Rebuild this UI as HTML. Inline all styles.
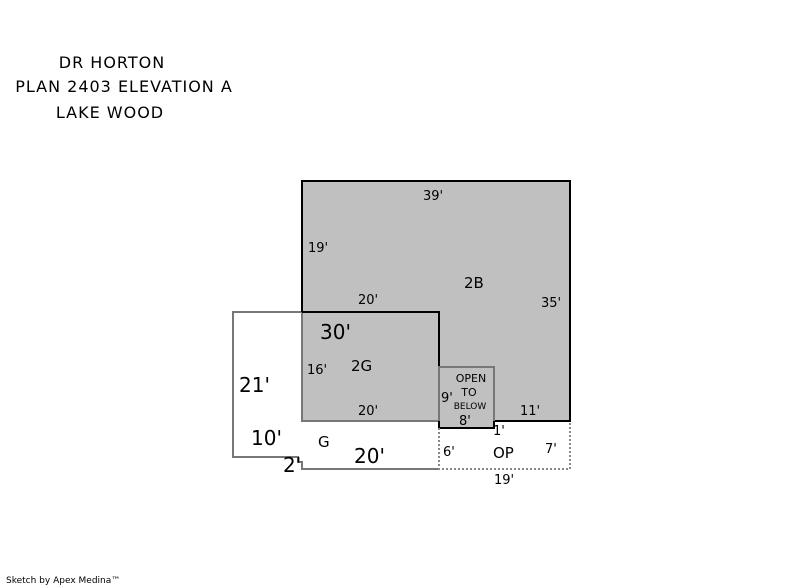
<!DOCTYPE html>
<html><head><meta charset="utf-8"><style>
html,body{margin:0;padding:0;background:#fff;}
body{width:800px;height:587px;overflow:hidden;position:relative;}
svg{position:absolute;left:0;top:0;}
</style></head><body>
<svg width="800" height="587" viewBox="0 0 800 587" font-family="DejaVu Sans, Liberation Sans, sans-serif">
<g font-size="16" text-anchor="middle" fill="#000" letter-spacing="1">
<text x="112" y="68">DR HORTON</text>
<text x="124" y="92">PLAN 2403 ELEVATION A</text>
<text x="110" y="118">LAKE WOOD</text>
</g>
<polyline points="302,312 233,312 233,457 298,457 298,462 302,462 302,469 439,469" fill="none" stroke="#777" stroke-width="2"/>
<polygon points="302,181 570,181 570,421 494,421 494,428 439,428 439,421 302,421" fill="#c0c0c0" stroke="none"/>
<polyline points="302,312 302,181 570,181 570,421 494,421 494,428 439,428 439,421" fill="none" stroke="#000" stroke-width="2"/>
<polyline points="302,312 302,421 439,421" fill="none" stroke="#777" stroke-width="2"/>
<polyline points="302,312 439,312 439,428" fill="none" stroke="#000" stroke-width="2"/>
<rect x="439" y="367" width="55" height="61" fill="#c0c0c0" stroke="#777" stroke-width="2"/>
<polyline points="439,421 439,428 494,428 494,421" fill="none" stroke="#000" stroke-width="2"/>
<polyline points="439,428 439,469 570,469 570,421" fill="none" stroke="#888" stroke-width="2" stroke-dasharray="2,2"/>
<g font-size="13" fill="#000">
<text x="423" y="200">39'</text>
<text x="308" y="252">19'</text>
<text x="541" y="307">35'</text>
<text x="358" y="304">20'</text>
<text x="307" y="374">16'</text>
<text x="358" y="415">20'</text>
<text x="520" y="415">11'</text>
<text x="441" y="402">9'</text>
<text x="459" y="425">8'</text>
<text x="493" y="435">1'</text>
<text x="443" y="456">6'</text>
<text x="545" y="453">7'</text>
<text x="494" y="484">19'</text>
</g>
<g font-size="15" fill="#000">
<text x="464" y="288">2B</text>
<text x="351" y="371">2G</text>
<text x="318" y="447">G</text>
<text x="493" y="458">OP</text>
</g>
<g font-size="11" fill="#000" text-anchor="middle">
<text x="471" y="382">OPEN</text>
<text x="469" y="396">TO</text>
<text x="470" y="409" font-size="9">BELOW</text>
</g>
<g font-size="20" fill="#000">
<text x="320" y="339">30'</text>
<text x="239" y="392">21'</text>
<text x="251" y="445">10'</text>
<text x="354" y="463">20'</text>
<text x="283" y="472">2'</text>
</g>
<text x="6" y="583" font-size="9" fill="#000">Sketch by Apex Medina™</text>
</svg>
</body></html>
